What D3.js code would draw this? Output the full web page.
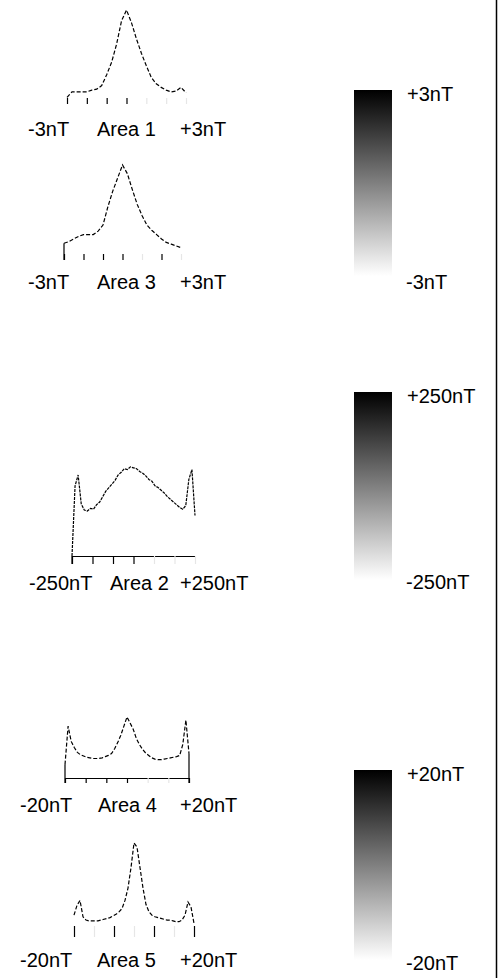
<!DOCTYPE html>
<html><head><meta charset="utf-8">
<script src="https://cdn.jsdelivr.net/npm/d3@7"></script>
<style>
body{margin:0;background:#fff}
svg{display:block}
text{font-family:"Liberation Sans",Arial,Helvetica,sans-serif;font-size:20px;fill:#000}
</style>
</head><body>
<svg id="c" width="503" height="978"></svg>
<script>
// ---------- data ----------
const binsA13 = [-3,-2.75,-2.5,-2.25,-2,-1.75,-1.5,-1.25,-1,-0.75,-0.5,-0.25,0,0.25,0.5,0.75,1,1.25,1.5,1.75,2,2.25,2.5,2.75,3];
const area1Counts = [3,9,9,9,9,11,12,16,28,42,62,88,100,86,68,52,38,25,18,14,11,9,10,14,8];
const area3Counts = [10,12,15,18,20,20,20,24,31,52,70,85,100,90,72,55,42,31,25,20,15,11,9,7,5];

const binsA2 = [-250,-237.5,-225,-212.5,-200,-187.5,-175,-162.5,-150,-137.5,-125,-112.5,-100,-87.5,-75,-62.5,-50,-37.5,-25,-12.5,0,12.5,25,37.5,50,62.5,75,87.5,100,112.5,125,137.5,150,162.5,175,187.5,200,212.5,225,237.5,250];
const area2Counts = [0,78,90,58,51,50,53,52,57,60,66,72,76,80,84,90,93,97,96,99,98,97,94,92,89,85,83,78,76,73,70,66,63,60,57,54,52,56,85,96,45];

const binsA45 = [-20,-19,-18,-17,-16,-15,-14,-13,-12,-11,-10,-9,-8,-7,-6,-5,-4,-3,-2,-1,0,1,2,3,4,5,6,7,8,9,10,11,12,13,14,15,16,17,18,19,20];
const area4Counts = [22,85,60,50,42,38,36,34,33,32,32,32,33,35,37,40,48,58,70,85,100,90,80,65,55,47,41,37,33,31,30,30,31,32,33,34,35,37,55,95,40];
const area5Counts = [12,24,30,10,6,5,5,5,5,6,7,8,9,11,13,16,20,30,45,70,100,95,70,45,25,16,12,10,9,8,7,6,6,5,4,4,6,12,28,22,2];

const ticksA13 = [-3,-2,-1,0,1,2,3];
const ticksA2 = [-250,-500/3,-250/3,0,250/3,500/3,250];
const ticksA45 = [-20,-40/3,-20/3,0,20/3,40/3,20];

const areaNames = ["Area 1","Area 3","Area 2","Area 4","Area 5"];
const minLabels = ["-3nT","-3nT","-250nT","-20nT","-20nT"];
const maxLabels = ["+3nT","+3nT","+250nT","+20nT","+20nT"];

const barTopLabels = ["+3nT","+250nT","+20nT"];
const barBottomLabels = ["-3nT","-250nT","-20nT"];

// ---------- layout ----------
const svg = d3.select("#c");
const panels = [
  {bins:binsA13, counts:area1Counts, dom:[-3,3], x0:67, x1:186, yb:100, yt:10, ticks:ticksA13,
   dark:[1,1,1,1,0,0,0], axisY:98, tick:6, domain:false, dropL:false, dropR:false, dash:"4,2",
   lab:{y:136, xs:[28,97,180]}},
  {bins:binsA13, counts:area3Counts, dom:[-3,3], x0:64, x1:181, yb:252, yt:165, ticks:ticksA13,
   dark:[1,1,1,1,0,1,0], axisY:254, tick:6, domain:false, dropL:true, dropR:false, dash:"4,2",
   lab:{y:289, xs:[28,97,180]}},
  {bins:binsA2, counts:area2Counts, dom:[-250,250], x0:72, x1:195, yb:556, yt:466, ticks:ticksA2,
   dark:[1,1,1,1,0,0,0], axisY:556, tick:8, domain:true, dropL:true, dropR:false, dash:"3,1",
   lab:{y:590, xs:[29,110,180]}},
  {bins:binsA45, counts:area4Counts, dom:[-20,20], x0:65, x1:189, yb:778, yt:717, ticks:ticksA45,
   dark:[1,1,1,1,0,0,1], axisY:778, tick:5, domain:true, dropL:true, dropR:true, dash:"4,2",
   lab:{y:812, xs:[20,98,180]}},
  {bins:binsA45, counts:area5Counts, dom:[-20,20], x0:74, x1:194, yb:925, yt:843, ticks:ticksA45,
   dark:[1,0,1,0,1,0,1], axisY:926, tick:11, domain:false, dropL:false, dropR:false, dash:"4,2",
   lab:{y:967, xs:[20,97,180]}}
];

panels.forEach((p,i)=>{
  const x = d3.scaleLinear().domain(p.dom).range([p.x0,p.x1]);
  const y = d3.scaleLinear().domain([0,100]).range([p.yb,p.yt]);
  const g = svg.append("g");

  // axis
  const ax = g.append("g").attr("transform",`translate(0,${p.axisY})`)
    .call(d3.axisBottom(x).tickValues(p.ticks).tickSize(p.tick).tickSizeOuter(0).tickFormat(""));
  ax.selectAll(".tick line").attr("stroke",(d,j)=>p.dark[j]?"#000":"#e6e6e6").attr("stroke-width",1.2);
  if(p.domain) ax.select(".domain").attr("stroke","#000").attr("stroke-width",1.2);
  else ax.select(".domain").remove();

  // edge drops
  const n = p.bins.length;
  if(p.dropL) g.append("line").attr("x1",x(p.bins[0])).attr("x2",x(p.bins[0]))
      .attr("y1",y(p.counts[0])).attr("y2",p.axisY+p.tick).attr("stroke","#000").attr("stroke-width",1.2);
  if(p.dropR) g.append("line").attr("x1",x(p.bins[n-1])).attr("x2",x(p.bins[n-1]))
      .attr("y1",y(p.counts[n-1])).attr("y2",p.axisY+p.tick).attr("stroke","#000").attr("stroke-width",1.2);

  // histogram curve
  const line = d3.line().x((d,j)=>x(p.bins[j])).y(d=>y(d));
  g.append("path").datum(p.counts).attr("d",line).attr("fill","none")
    .attr("stroke","#000").attr("stroke-width",1.2).attr("stroke-dasharray",p.dash);

  // labels
  const labs = [minLabels[i], areaNames[i], maxLabels[i]];
  labs.forEach((t,k)=>{
    g.append("text").attr("x",p.lab.xs[k]).attr("y",p.lab.y).text(t);
  });
});

// ---------- colour bars ----------
const defs = svg.append("defs");
const grad = defs.append("linearGradient").attr("id","gb").attr("x1",0).attr("x2",0).attr("y1",0).attr("y2",1);
grad.append("stop").attr("offset","0%").attr("stop-color","#000");
grad.append("stop").attr("offset","100%").attr("stop-color","#fff");

const bars = [
  {y0:90, y1:276, ty:101, by:289},
  {y0:392, y1:580, ty:403, by:589},
  {y0:770, y1:960, ty:781, by:970}
];
bars.forEach((b,i)=>{
  svg.append("rect").attr("x",354).attr("y",b.y0).attr("width",38).attr("height",b.y1-b.y0).attr("fill","url(#gb)");
  svg.append("text").attr("x",407).attr("y",b.ty).text(barTopLabels[i]);
  svg.append("text").attr("x",406).attr("y",b.by).text(barBottomLabels[i]);
});

// right border
svg.append("line").attr("x1",496.5).attr("x2",496.5).attr("y1",0).attr("y2",978)
  .attr("stroke","#000").attr("stroke-width",1.5);
</script>
</body></html>
